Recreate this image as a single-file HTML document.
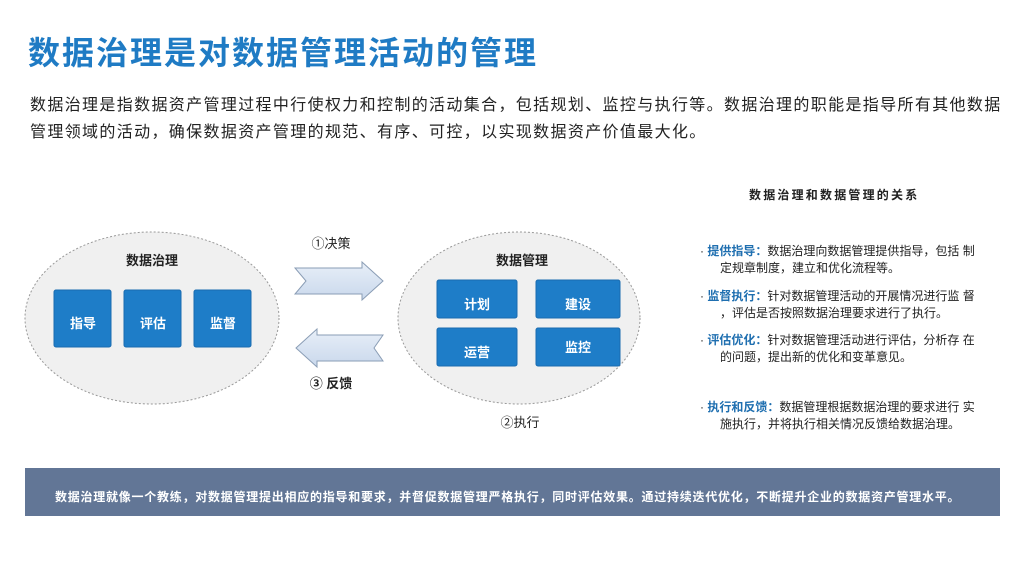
<!DOCTYPE html>
<html><head><meta charset="utf-8"><style>
*{margin:0;padding:0;box-sizing:border-box}
body{width:1024px;height:574px;background:#fff;position:relative;overflow:hidden;font-family:"Liberation Sans","Noto Sans CJK SC",sans-serif;color:#222}
.a{position:absolute;white-space:nowrap}
.t{left:28px;top:33px;font-size:32px;font-weight:bold;color:#1f7bc4;line-height:40px;letter-spacing:2px}
.p{left:30px;font-size:16px;letter-spacing:1.35px;line-height:20px;color:#222}
.h{left:749px;top:186px;font-size:12px;font-weight:bold;letter-spacing:2.2px;color:#222}
.b{font-size:12px;line-height:17px;color:#222}
.b b{color:#1f6fb0}
.bar{left:25px;top:468px;width:975px;height:48px;background:#627696}
.bt{left:55px;top:488px;font-size:12px;font-weight:bold;color:#fff;letter-spacing:0.75px}
</style></head><body>
<div class="a t">数据治理是对数据管理活动的管理</div>
<div class="a p" style="top:96px">数据治理是指数据资产管理过程中行使权力和控制的活动集合，包括规划、监控与执行等。数据治理的职能是指导所有其他数据</div>
<div class="a p" style="top:123px">管理领域的活动，确保数据资产管理的规范、有序、可控，以实现数据资产价值最大化。</div>

<svg class="a" style="left:0;top:0" width="680" height="460">
<defs><linearGradient id="g" x1="0" y1="0" x2="0" y2="1"><stop offset="0" stop-color="#e8eff8"/><stop offset="1" stop-color="#c9d8ec"/></linearGradient></defs>
<ellipse cx="152" cy="318" rx="127" ry="86" fill="#f0f0f0" stroke="#999" stroke-dasharray="2,2"/>
<ellipse cx="519" cy="318" rx="121" ry="86" fill="#f0f0f0" stroke="#999" stroke-dasharray="2,2"/>
<g fill="#1e7dc8" stroke="#1a6bb0">
<rect x="54" y="290" width="57" height="57" rx="2"/>
<rect x="124" y="290" width="57" height="57" rx="2"/>
<rect x="194" y="290" width="57" height="57" rx="2"/>
<rect x="437" y="280" width="80" height="38" rx="2"/>
<rect x="536" y="280" width="84" height="38" rx="2"/>
<rect x="437" y="328" width="80" height="38" rx="2"/>
<rect x="536" y="328" width="84" height="38" rx="2"/>
</g>
<path d="M295 268 H362 V262 L383 281 L362 300 V294 H295 L306 281 Z" fill="url(#g)" stroke="#8a9db5"/>
<path d="M383 335 H317 V329 L296 348 L317 367 V361 H383 L374 348 Z" fill="url(#g)" stroke="#8a9db5"/>
<g font-family="Liberation Sans,Noto Sans CJK SC,sans-serif" font-weight="bold" font-size="13" text-anchor="middle">
<text x="152" y="265" fill="#222">数据治理</text>
<text x="522" y="265" fill="#222">数据管理</text>
<g fill="#fff"><text x="83" y="328">指导</text><text x="153" y="328">评估</text><text x="223" y="328">监督</text>
<text x="477" y="309">计划</text><text x="578" y="309">建设</text><text x="477" y="357">运营</text><text x="578" y="352">监控</text></g>
<text x="331" y="388" fill="#222">③ 反馈</text>
</g>
<g font-family="Liberation Sans,Noto Sans CJK SC,sans-serif" font-size="13" text-anchor="middle" fill="#222">
<text x="331" y="248">①决策</text>
<text x="520" y="427">②执行</text>
</g>
</svg>

<div class="a h">数据治理和数据管理的关系</div>
<div class="a b" style="left:700px;top:243px">· <b>提供指导：</b>数据治理向数据管理提供指导，包括 制<br><span style="padding-left:20px">定规章制度，建立和优化流程等。</span></div>
<div class="a b" style="left:700px;top:288px">· <b>监督执行：</b>针对数据管理活动的开展情况进行监 督<br><span style="padding-left:20px">，评估是否按照数据治理要求进行了执行。</span></div>
<div class="a b" style="left:700px;top:332px">· <b>评估优化：</b>针对数据管理活动进行评估，分析存 在<br><span style="padding-left:20px">的问题，提出新的优化和变革意见。</span></div>
<div class="a b" style="left:700px;top:399px">· <b>执行和反馈：</b>数据管理根据数据治理的要求进行 实<br><span style="padding-left:20px">施执行，并将执行相关情况反馈给数据治理。</span></div>

<div class="a bar"></div>
<div class="a bt">数据治理就像一个教练，对数据管理提出相应的指导和要求，并督促数据管理严格执行，同时评估效果。通过持续迭代优化，不断提升企业的数据资产管理水平。</div>
</body></html>
